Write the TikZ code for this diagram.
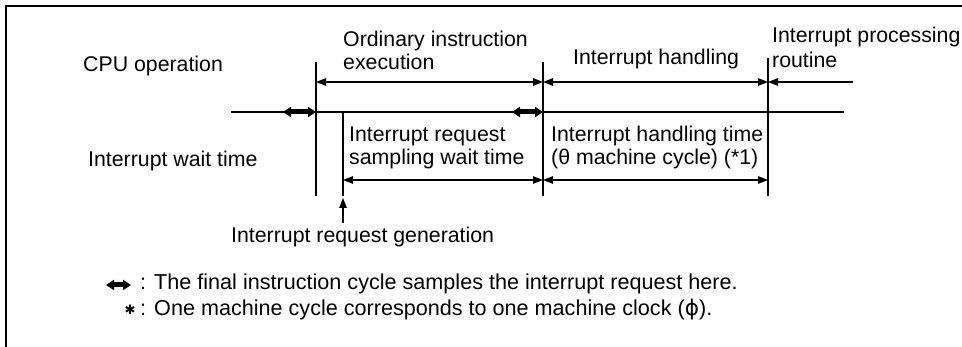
\documentclass[tikz,border=0pt]{standalone}
\usepackage{fontspec}
\setmainfont{Liberation Sans}
\newfontfamily\symfont{DejaVu Sans}
\usetikzlibrary{arrows.meta}
\begin{document}
\begin{tikzpicture}[x=1pt,y=-1pt,
  lbl/.style={anchor=base west, inner sep=0pt, font=\fontsize{21.3}{23}\selectfont},
  leg/.style={anchor=base west, inner sep=0pt, font=\fontsize{21.6}{23}\selectfont},
  frameline/.style={line width=2pt},
  vline/.style={line width=1.5pt},
  mainline/.style={line width=2.5pt},
  tip/.tip={Triangle[length=10pt,width=7.5pt]},
  dimline/.style={line width=1.3pt, tip-tip},
  oneway/.style={line width=1.3pt, -tip},
  fattip/.tip={Triangle[length=8pt,width=10pt]},
  fatarrow/.style={line width=5pt, fattip-fattip}
]
\useasboundingbox (0,0) rectangle (962,347);
% frame
\draw[frameline] (6,347) -- (6,6) -- (962,6);

% coordinates
\coordinate (a) at (316,82);
\coordinate (b) at (543,82);
\coordinate (c) at (768,82);
\coordinate (d) at (853,82);
\coordinate (m0) at (231,112);
\coordinate (m1) at (844,112);
\coordinate (f1a) at (283,112);
\coordinate (f1b) at (316,112);
\coordinate (f2a) at (512,112);
\coordinate (f2b) at (543,112);
\coordinate (v1t) at (316,62);  \coordinate (v1b) at (316,196);
\coordinate (v2t) at (343,112); \coordinate (v2b) at (343,196);
\coordinate (v3t) at (543,62);  \coordinate (v3b) at (543,196);
\coordinate (v4t) at (768,58);  \coordinate (v4b) at (768,196);
\coordinate (l1) at (343,180);
\coordinate (l2) at (543,180);
\coordinate (l3) at (768,180);
\coordinate (up0) at (343,223);
\coordinate (up1) at (343,198);
\coordinate (la) at (106,285);
\coordinate (lb) at (131,285);

% vertical lines
\draw[vline] (v1t) -- (v1b);
\draw[vline] (v2t) -- (v2b);
\draw[vline] (v3t) -- (v3b);
\draw[vline] (v4t) -- (v4b);

% main line
\draw[mainline] (m0) -- (m1);
\draw[fatarrow] (f1a) -- (f1b);
\draw[fatarrow] (f2a) -- (f2b);

% upper arrows
\draw[dimline] (a) -- (b);
\draw[dimline] (b) -- (c);
\draw[oneway] (d) -- (c);

% lower arrows
\draw[dimline] (l1) -- (l2);
\draw[dimline] (l2) -- (l3);
\draw[oneway] (up0) -- (up1);

% labels
\node[lbl] (cpu) at (83,72) {CPU operation};
\node[lbl] (wait) at (88,167) {Interrupt wait time};
\node[lbl] (ord1) at (343,47) {Ordinary instruction};
\node[lbl] (ord2) at (343,70) {execution};
\node[lbl] (ih) at (573,65) {Interrupt handling};
\node[lbl] (ipr1) at (772,43) {Interrupt processing};
\node[lbl] (ipr2) at (772,68) {routine};
\node[lbl] (irs1) at (349,142) {Interrupt request};
\node[lbl] (irs2) at (349,165) {sampling wait time};
\node[lbl] (iht1) at (551,142) {Interrupt handling time};
\node[lbl] (iht2) at (551,165) {(θ machine cycle) (*1)};
\node[lbl] (irg) at (231,243) {Interrupt request generation};

% legend
\draw[fatarrow] (la) -- (lb);
\node[leg] (leg1) at (140,290) {: The final instruction cycle samples the interrupt request here.};
\node[inner sep=0pt, font=\symfont\fontsize{13}{14}\selectfont] (star) at (130,310) {✱};
\node[leg] (leg2) at (140,316) {: One machine cycle corresponds to one machine clock ({\symfont ϕ}).};
\end{tikzpicture}
\end{document}
